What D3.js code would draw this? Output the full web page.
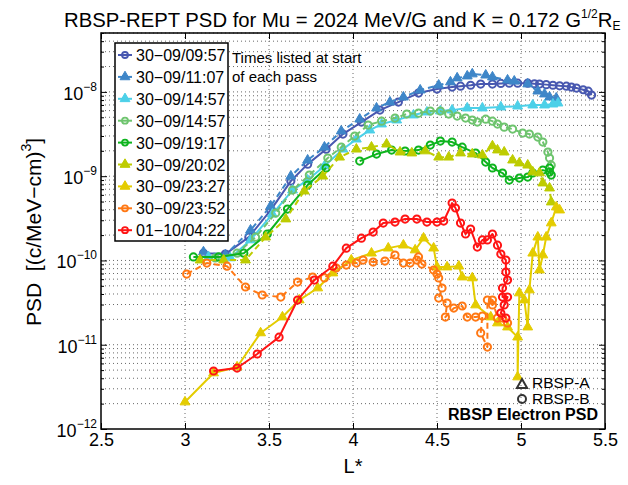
<!DOCTYPE html>
<html>
<head>
<meta charset="utf-8">
<script src="https://cdn.jsdelivr.net/npm/d3@7"></script>
<style>
  body { margin: 0; background: #fff; }
  text { font-family: "Liberation Sans", Arial, Helvetica, sans-serif; fill: #000; }
</style>
</head>
<body>
<div id="chart"></div>
<script>
// pass start times (legend) and which spacecraft (A = triangles, B = circles)
const passTimes = ["30−09/09:57", "30−09/11:07", "30−09/14:57", "30−09/14:57", "30−09/19:17",
                   "30−09/20:02", "30−09/23:27", "30−09/23:52", "01−10/04:22"];
const probe = ["B", "A", "A", "B", "B", "A", "A", "B", "B"];

const xTicks = [2.5, 3, 3.5, 4, 4.5, 5, 5.5];
const yDecades = [-12, -11, -10, -9, -8];

// [L*, PSD] pairs
const pass0957 = [[3.11,1.22e-10],[3.24,1.19e-10],[3.38,1.89e-10],[3.51,3.96e-10],[3.63,8.75e-10],[3.73,1.39e-9],
  [3.84,2.09e-9],[3.94,3.16e-9],[4.05,4.38e-9],[4.16,6.08e-9],[4.27,7.57e-9],[4.39,9.68e-9],[4.50,1.08e-8],
  [4.59,1.14e-8],[4.64,1.17e-8],[4.70,1.20e-8],[4.76,1.24e-8],[4.83,1.24e-8],[4.88,1.26e-8],[4.93,1.27e-8],
  [4.98,1.27e-8],[5.04,1.27e-8],[5.08,1.25e-8],[5.11,1.24e-8],[5.15,1.22e-8],[5.19,1.20e-8],[5.23,1.18e-8],
  [5.27,1.17e-8],[5.30,1.14e-8],[5.33,1.11e-8],[5.37,1.06e-8],[5.40,1.02e-8],[5.42,9.16e-9]];
const pass1107 = [[3.11,1.26e-10],[3.24,1.16e-10],[3.39,2.29e-10],[3.51,4.42e-10],[3.63,1.00e-9],[3.73,1.55e-9],
  [3.83,2.21e-9],[3.93,3.43e-9],[4.04,4.75e-9],[4.14,6.42e-9],[4.22,7.57e-9],[4.30,8.67e-9],[4.40,1.05e-8],
  [4.51,1.20e-8],[4.58,1.31e-8],[4.62,1.46e-8],[4.68,1.54e-8],[4.71,1.63e-8],[4.79,1.58e-8],[4.83,1.50e-8],
  [4.92,1.38e-8],[4.96,1.34e-8],[5.04,1.24e-8],[5.10,1.02e-8],[5.14,9.42e-9],[5.17,8.67e-9],[5.21,8.44e-9]];
const pass1457a = [[3.14,1.10e-10],[3.27,1.07e-10],[3.39,1.75e-10],[3.52,3.55e-10],[3.64,6.84e-10],[3.73,8.99e-10],
  [3.83,1.32e-9],[3.94,2.09e-9],[4.02,2.75e-9],[4.10,3.52e-9],[4.17,4.15e-9],[4.26,4.63e-9],[4.36,5.31e-9],
  [4.44,5.76e-9],[4.52,5.92e-9],[4.59,6.08e-9],[4.68,6.43e-9],[4.77,6.43e-9],[4.88,6.61e-9],[4.98,6.78e-9],
  [5.07,6.97e-9],[5.14,6.97e-9],[5.19,7.16e-9],[5.22,7.36e-9]];
const pass1457b = [[3.18,1.07e-10],[3.31,1.22e-10],[3.42,1.89e-10],[3.54,3.65e-10],[3.64,6.84e-10],[3.74,1.03e-9],
  [3.85,1.64e-9],[3.93,2.21e-9],[4.01,2.99e-9],[4.09,4.04e-9],[4.17,4.50e-9],[4.25,4.89e-9],[4.32,5.46e-9],
  [4.39,5.60e-9],[4.46,5.92e-9],[4.52,5.92e-9],[4.57,5.46e-9],[4.62,5.16e-9],[4.67,4.89e-9],[4.71,4.63e-9],
  [4.74,4.38e-9],[4.79,4.75e-9],[4.83,4.50e-9],[4.86,4.15e-9],[4.90,3.82e-9],[4.95,3.62e-9],[5.01,3.25e-9],
  [5.05,3.16e-9],[5.10,2.91e-9],[5.13,2.54e-9],[5.16,1.93e-9],[5.17,1.64e-9],[5.18,1.35e-9]];
const pass1917 = [[3.05,1.10e-10],[3.20,1.10e-10],[3.35,1.22e-10],[3.49,2.06e-10],[3.61,4.07e-10],[3.73,7.84e-10],
  [3.84,1.25e-9], null,
  [4.04,1.51e-9],[4.14,1.83e-9],[4.23,2.04e-9],[4.31,1.99e-9],[4.39,2.04e-9],[4.46,2.34e-9],[4.52,2.61e-9],
  [4.59,2.54e-9],[4.65,2.21e-9],[4.73,1.88e-9],[4.79,1.47e-9],[4.83,1.25e-9],[4.89,1.09e-9],[4.93,8.99e-10],
  [4.99,9.49e-10],[5.04,9.75e-10],[5.07,1.09e-9],[5.13,1.18e-9],[5.17,1.12e-9],[5.18,1.03e-9],[5.17,1.25e-9]];
const pass2002 = [[3.09,1.01e-10],[3.23,1.01e-10],[3.36,1.01e-10],[3.48,1.89e-10],[3.60,3.10e-10],[3.71,6.65e-10],
  [3.82,1.00e-9],[3.92,1.68e-9],[4.02,2.09e-9],[4.11,2.21e-9],[4.20,2.40e-9],[4.28,1.93e-9],[4.35,1.88e-9],
  [4.43,1.99e-9],[4.51,1.68e-9],[4.57,1.68e-9],[4.64,1.88e-9],[4.71,1.83e-9],[4.77,1.78e-9],[4.83,2.28e-9],
  [4.86,2.04e-9],[4.90,1.93e-9],[4.95,1.55e-9],[4.99,1.43e-9],[5.04,1.35e-9],[5.07,1.12e-9],[5.11,1.09e-9],
  [5.13,8.28e-10],[5.17,7.22e-10],[5.18,4.93e-10]];
const pass2327 = [[3.00,2.09e-12],[3.17,4.62e-12],[3.31,5.44e-12],[3.45,1.38e-11],[3.58,2.13e-11],[3.68,3.39e-11],
  [3.79,4.71e-11],[3.88,7.09e-11],[3.99,1.01e-10],[4.11,1.22e-10],[4.21,1.40e-10],[4.30,1.52e-10],[4.37,1.33e-10],
  [4.42,1.84e-10],[4.48,1.40e-10],[4.50,8.35e-11],[4.56,8.35e-11],[4.63,8.55e-11],[4.65,6.35e-11],[4.71,6.20e-11],
  [4.73,2.96e-11],[4.82,2.13e-11],[4.86,1.81e-11],[4.92,1.62e-11],[4.98,1.23e-11],[4.98,4.14e-12],[4.99,4.11e-11],
  [5.02,3.39e-11],[5.04,1.62e-11],[5.05,4.46e-11],[5.07,1.22e-10],[5.10,1.89e-10],[5.11,7.69e-11],[5.13,1.16e-10],
  [5.15,1.89e-10],[5.18,2.78e-10],[5.21,4.30e-10],[5.23,3.96e-10]];
const pass2352 = [[3.01,6.90e-11],[3.13,9.31e-11],[3.25,8.55e-11],[3.36,4.84e-11],[3.46,3.89e-11],[3.57,3.68e-11],
  [3.67,5.54e-11],[3.76,6.35e-11],[3.83,6.20e-11],[3.90,8.12e-11],[3.96,8.82e-11],[4.02,9.31e-11],[4.06,1.01e-10],
  [4.12,9.57e-11],[4.19,9.84e-11],[4.25,1.16e-10],[4.30,9.31e-11],[4.34,9.31e-11],[4.38,1.01e-10],[4.39,1.10e-10],
  [4.41,9.06e-11],[4.48,7.69e-11],[4.50,6.90e-11],[4.51,6.20e-11],[4.53,4.71e-11],[4.51,3.58e-11],[4.56,3.12e-11],
  [4.55,2.13e-11],[4.60,2.72e-11],[4.65,2.88e-11],[4.68,2.13e-11],[4.73,2.13e-11],[4.77,2.19e-11],[4.76,1.38e-11],
  [4.80,9.39e-12],[4.80,3.39e-11],[4.83,2.96e-11],[4.83,3.39e-11],[4.86,2.07e-11],[4.89,2.07e-11],[4.92,1.81e-11]];
const pass0422 = [[3.17,4.88e-12],[3.31,5.29e-12],[3.43,7.76e-12],[3.56,1.23e-11],[3.67,3.39e-11],[3.77,5.85e-11],
  [3.88,8.55e-11],[3.96,1.40e-10],[4.05,1.84e-10],[4.12,2.17e-10],[4.18,2.78e-10],[4.25,2.85e-10],[4.31,3.10e-10],
  [4.38,3.10e-10],[4.44,2.85e-10],[4.50,2.85e-10],[4.54,2.93e-10],[4.59,4.80e-10],[4.61,4.19e-10],[4.64,2.78e-10],
  [4.67,2.06e-10],[4.70,2.36e-10],[4.74,1.44e-10],[4.77,1.75e-10],[4.80,1.75e-10],[4.83,2.06e-10],[4.86,1.52e-10],
  [4.88,1.19e-10],[4.91,1.01e-10],[4.91,7.28e-11],[4.92,5.85e-11],[4.89,4.71e-11],[4.89,3.68e-11],[4.92,3.68e-11],
  [4.90,2.96e-11],[4.88,2.38e-11],[4.91,2.07e-11]];

const passes = [pass0957, pass1107, pass1457a, pass1457b, pass1917, pass2002, pass2327, pass2352, pass0422];
const colors = ["#4858b0", "#3e86c8", "#4cd0e8", "#6ec46e", "#0eb41e", "#becc00", "#e4cc00", "#ff7814", "#ff1414"];
const dashed = [false, true, false, true, false, true, false, true, false];

const width = 628, height = 485;
const margin = { top: 33, right: 23, bottom: 56, left: 101 };

const svg = d3.select("#chart").append("svg")
  .attr("width", width).attr("height", height);

const x = d3.scaleLinear().domain([2.5, 5.5]).range([margin.left, width - margin.right]);
const y = d3.scaleLog().domain([1e-12, 5e-8]).range([height - margin.bottom, margin.top]);

// minor + major log values for grid and ticks
const yAll = [];
yDecades.forEach(e => {
  for (let m = 1; m <= 9; m++) {
    const v = m * Math.pow(10, e);
    if (v <= 5e-8) yAll.push({ v, major: m === 1 });
  }
});

// grid (dotted)
const grid = svg.append("g").attr("stroke", "#444").attr("stroke-width", 1)
  .attr("stroke-dasharray", "1,3").attr("opacity", 0.8);
grid.selectAll("line.gy").data(yAll.filter(d => d.v > 1e-12)).join("line")
  .attr("x1", margin.left).attr("x2", width - margin.right)
  .attr("y1", d => y(d.v)).attr("y2", d => y(d.v));
grid.selectAll("line.gx").data(xTicks.slice(1, -1)).join("line")
  .attr("x1", d => x(d)).attr("x2", d => x(d))
  .attr("y1", margin.top).attr("y2", height - margin.bottom);

// series
const line = d3.line()
  .defined(d => d !== null)
  .x(d => x(d[0])).y(d => y(d[1]));

const tri = d3.symbol().type(d3.symbolTriangle).size(42);

passes.forEach((data, i) => {
  const g = svg.append("g");
  g.append("path").datum(data)
    .attr("d", line)
    .attr("fill", "none")
    .attr("stroke", colors[i])
    .attr("stroke-width", 2)
    .attr("stroke-dasharray", dashed[i] ? "6,4" : null)
    .attr("stroke-linejoin", "round");
  const pts = data.filter(d => d !== null);
  if (probe[i] === "A") {
    g.selectAll("path.m").data(pts).join("path")
      .attr("transform", d => `translate(${x(d[0])},${y(d[1])})`)
      .attr("d", tri)
      .attr("fill", colors[i]).attr("stroke", colors[i]).attr("stroke-width", 1);
  } else {
    g.selectAll("circle").data(pts).join("circle")
      .attr("cx", d => x(d[0])).attr("cy", d => y(d[1])).attr("r", 3.6)
      .attr("fill", "none").attr("stroke", colors[i]).attr("stroke-width", 2);
  }
});

// axes box with inward ticks on all sides
const xb = svg.append("g")
  .attr("transform", `translate(0,${height - margin.bottom})`)
  .call(d3.axisBottom(x).tickValues(xTicks).tickSizeInner(-6).tickSizeOuter(0).tickPadding(4)
    .tickFormat(d3.format("")));
const xt = svg.append("g")
  .attr("transform", `translate(0,${margin.top})`)
  .call(d3.axisTop(x).tickValues(xTicks).tickSizeInner(-6).tickSizeOuter(0).tickFormat(""));
const yl = svg.append("g")
  .attr("transform", `translate(${margin.left},0)`)
  .call(d3.axisLeft(y).tickValues(yAll.map(d => d.v)).tickSizeInner(-3).tickSizeOuter(0).tickFormat(""));
const yr = svg.append("g")
  .attr("transform", `translate(${width - margin.right},0)`)
  .call(d3.axisRight(y).tickValues(yAll.map(d => d.v)).tickSizeInner(-3).tickSizeOuter(0).tickFormat(""));

[yl, yr].forEach((ax, k) => {
  ax.selectAll(".tick line").attr("x2", (d) => {
    const major = yAll.find(t => t.v === d).major;
    return (k === 0 ? 1 : -1) * (major ? 6 : 3);
  });
});

[xb, xt, yl, yr].forEach(ax => {
  ax.select(".domain").remove();
  ax.selectAll(".tick line").attr("stroke", "#000").attr("stroke-width", 1);
});
xb.selectAll(".tick text").attr("font-size", 18).attr("fill", "#000")
  .style("font-family", "'Liberation Sans', Arial, sans-serif");

svg.append("rect")
  .attr("x", margin.left).attr("y", margin.top)
  .attr("width", width - margin.left - margin.right)
  .attr("height", height - margin.top - margin.bottom)
  .attr("fill", "none").attr("stroke", "#000").attr("stroke-width", 1.5);

// y tick labels 10^n
yDecades.forEach(e => {
  const t = svg.append("text")
    .attr("x", margin.left - 4).attr("y", y(Math.pow(10, e)) + 8)
    .attr("text-anchor", "end").attr("font-size", 18);
  t.append("tspan").text("10");
  t.append("tspan").attr("dy", -9).attr("font-size", 12).text("−" + Math.abs(e));
});

// axis labels
svg.append("text")
  .attr("x", x(4)).attr("y", 473)
  .attr("text-anchor", "middle").attr("font-size", 20).text("L*");

const ylab = svg.append("text")
  .attr("transform", "translate(41,232) rotate(-90)")
  .attr("text-anchor", "middle").attr("font-size", 21);
ylab.append("tspan").text("PSD\u00a0\u00a0[(c/MeV−cm)");
ylab.append("tspan").attr("dy", -10).attr("font-size", 14).text("3");
ylab.append("tspan").attr("dy", 10).text("]");

// title
const title = svg.append("text")
  .attr("x", 64).attr("y", 27).attr("font-size", 20.3);
title.append("tspan").text("RBSP-REPT PSD for Mu = 2024 MeV/G and K = 0.172 G");
title.append("tspan").attr("dy", -9).attr("font-size", 12).text("1/2");
title.append("tspan").attr("dy", 9).text("R");
title.append("tspan").attr("dy", 3).attr("font-size", 12).text("E");

// legend
const legend = svg.append("g");
legend.append("rect")
  .attr("x", 115).attr("y", 43).attr("width", 113).attr("height", 198)
  .attr("fill", "#fff").attr("stroke", "#000").attr("stroke-width", 1.5);
passTimes.forEach((t, i) => {
  const cy = 55 + i * 21.9;
  const g = legend.append("g");
  g.append("line").attr("x1", 118).attr("x2", 132).attr("y1", cy).attr("y2", cy)
    .attr("stroke", colors[i]).attr("stroke-width", 2);
  if (probe[i] === "A") {
    g.append("path").attr("transform", `translate(125,${cy})`).attr("d", tri)
      .attr("fill", colors[i]).attr("stroke", colors[i]);
  } else {
    g.append("circle").attr("cx", 125).attr("cy", cy).attr("r", 3)
      .attr("fill", "none").attr("stroke", colors[i]).attr("stroke-width", 1.8);
  }
  g.append("text").attr("x", 136).attr("y", cy + 6).attr("font-size", 16).text(t);
});

// notes
svg.append("text").attr("x", 232).attr("y", 63).attr("font-size", 15).text("Times listed at start");
svg.append("text").attr("x", 232).attr("y", 82).attr("font-size", 15).text("of each pass");

svg.append("path").attr("transform", "translate(522,385)")
  .attr("d", d3.symbol().type(d3.symbolTriangle).size(45))
  .attr("fill", "none").attr("stroke", "#333").attr("stroke-width", 2);
svg.append("text").attr("x", 532).attr("y", 388).attr("font-size", 15.5).text("RBSP-A");
svg.append("circle").attr("cx", 522).attr("cy", 399).attr("r", 4)
  .attr("fill", "none").attr("stroke", "#333").attr("stroke-width", 2);
svg.append("text").attr("x", 532).attr("y", 404).attr("font-size", 15.5).text("RBSP-B");
svg.append("text").attr("x", 598).attr("y", 420).attr("text-anchor", "end")
  .attr("font-size", 16).attr("font-weight", "bold").text("RBSP Electron PSD");
</script>
</body>
</html>
